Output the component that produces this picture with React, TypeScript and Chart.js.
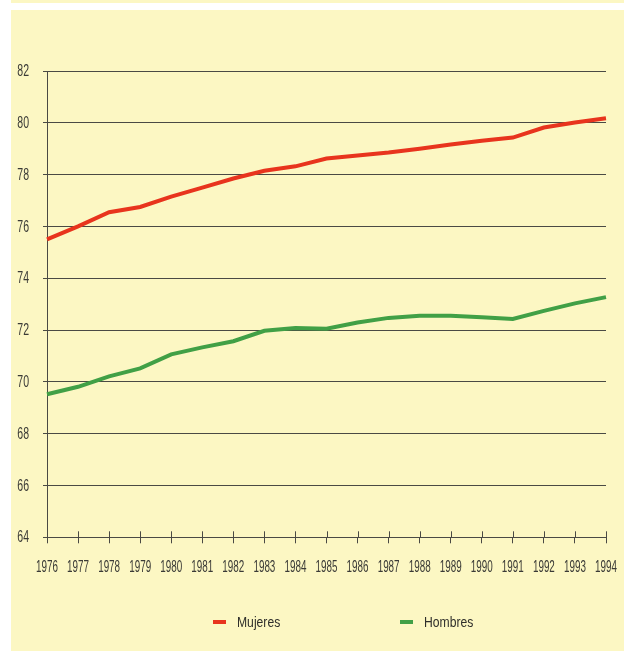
import React, { useEffect, useRef } from "react";
import { Chart, registerables } from "chart.js";

Chart.register(...registerables);

// ---- data ----
const YEARS = [
  "1976", "1977", "1978", "1979", "1980", "1981", "1982", "1983", "1984", "1985",
  "1986", "1987", "1988", "1989", "1990", "1991", "1992", "1993", "1994",
];
const MUJERES = [
  75.5, 76.0, 76.55, 76.75, 77.15, 77.5, 77.85, 78.15, 78.32, 78.62,
  78.74, 78.85, 79.0, 79.16, 79.31, 79.43, 79.82, 80.01, 80.18,
];
const HOMBRES = [
  69.52, 69.81, 70.21, 70.52, 71.06, 71.33, 71.57, 71.97, 72.08, 72.05,
  72.29, 72.47, 72.55, 72.55, 72.49, 72.43, 72.74, 73.03, 73.27,
];
const SERIES_NAMES = ["Mujeres", "Hombres"];
const Y_MIN = 64;
const Y_MAX = 82;
const Y_STEP = 2;

// ---- style ----
const W = 624;
const H = 651;
const PANEL = "#fcf7c3";
const RED = "#e8341d";
const GREEN = "#41a046";
const AXIS = "#4a4a44";
const TEXT = "#3a3a36";
const SANS = "'Liberation Sans', Arial, Helvetica, sans-serif";

// draws the short upper half of the x tick marks (they cross the axis)
const crossTicks = {
  id: "crossTicks",
  afterDraw(chart: any) {
    const xs = chart.scales.x;
    const ctx = chart.ctx;
    const y0 = chart.chartArea.bottom;
    ctx.save();
    ctx.strokeStyle = AXIS;
    ctx.lineWidth = 1;
    xs.ticks.forEach((_: any, i: number) => {
      const px = Math.round(xs.getPixelForTick(i)) + 0.5;
      ctx.beginPath();
      ctx.moveTo(px, y0 - 6);
      ctx.lineTo(px, y0);
      ctx.stroke();
    });
    ctx.restore();
  },
};

// condensed tick labels, drawn from the scales' own ticks
const condensedLabels = {
  id: "condensedLabels",
  afterDraw(chart: any) {
    const ctx = chart.ctx;
    const xs = chart.scales.x;
    const ys = chart.scales.y;
    ctx.save();
    ctx.fillStyle = TEXT;
    ctx.font = `17px ${SANS}`;
    ctx.textBaseline = "middle";
    const xy = chart.chartArea.bottom + 30;
    xs.ticks.forEach((t: any, i: number) => {
      const px = xs.getPixelForTick(i);
      ctx.save();
      ctx.translate(px, xy);
      ctx.scale(0.58, 1);
      ctx.textAlign = "center";
      ctx.fillText(String(t.label), 0, 0);
      ctx.restore();
    });
    ys.ticks.forEach((t: any, i: number) => {
      const py = ys.getPixelForTick(i);
      ctx.save();
      ctx.translate(ys.right - 18, py + 0.5);
      ctx.scale(0.62, 1);
      ctx.textAlign = "right";
      ctx.fillText(String(t.label), 0, 0);
      ctx.restore();
    });
    ctx.restore();
  },
};

const customLegend = {
  id: "customLegend",
  afterDraw(chart: any, _args: any, opts: any) {
    const ctx = chart.ctx;
    ctx.save();
    chart.data.datasets.forEach((ds: any, i: number) => {
      const x = opts.x[i];
      const y = opts.y;
      ctx.fillStyle = ds.borderColor;
      ctx.fillRect(x, y - 2, 13, 4);
      ctx.save();
      ctx.fillStyle = "#2e2e2a";
      ctx.font = `15px ${SANS}`;
      ctx.textBaseline = "middle";
      ctx.textAlign = "left";
      ctx.translate(x + 24, y + 0.5);
      ctx.scale(0.81, 1);
      ctx.fillText(ds.label, 0, 0);
      ctx.restore();
    });
    ctx.restore();
  },
};

export default function App() {
  const ref = useRef<HTMLCanvasElement | null>(null);

  useEffect(() => {
    if (!ref.current) return;
    const chart = new Chart(ref.current, {
      type: "line",
      data: {
        labels: YEARS,
        datasets: [
          {
            label: SERIES_NAMES[0],
            data: MUJERES,
            borderColor: RED,
            backgroundColor: RED,
            borderWidth: 4,
            pointRadius: 0,
            tension: 0,
          },
          {
            label: SERIES_NAMES[1],
            data: HOMBRES,
            borderColor: GREEN,
            backgroundColor: GREEN,
            borderWidth: 4,
            pointRadius: 0,
            tension: 0,
          },
        ],
      },
      options: {
        responsive: false,
        animation: false,
        events: [],
        layout: { padding: { left: 0, right: 18, top: 71, bottom: 0 } },
        plugins: {
          legend: { display: false },
          tooltip: { enabled: false },
          customLegend: { x: [213, 400], y: 622 },
        } as any,
        scales: {
          x: {
            type: "category",
            offset: false,
            grid: {
              display: true,
              drawOnChartArea: false,
              drawTicks: true,
              tickLength: 6,
              color: AXIS,
              lineWidth: 1,
            },
            border: { display: true, color: AXIS, width: 1 },
            ticks: { display: false, autoSkip: false, maxRotation: 0 },
            afterFit: (s: any) => {
              s.height = H - 537.3;
              s.paddingLeft = 0;
              s.paddingRight = 0;
            },
          },
          y: {
            min: Y_MIN,
            max: Y_MAX,
            grid: {
              color: AXIS,
              lineWidth: 1,
              drawTicks: true,
              tickLength: 4,
            },
            border: { display: true, color: AXIS, width: 1 },
            ticks: { display: false, stepSize: Y_STEP },
            afterFit: (s: any) => {
              s.width = 47;
              s.paddingTop = 0;
              s.paddingBottom = 0;
            },
          },
        },
      },
      plugins: [crossTicks, condensedLabels, customLegend],
    });
    return () => chart.destroy();
  }, []);

  return (
    <div style={{ position: "fixed", left: 0, top: 0, width: W, height: H, background: "#ffffff", overflow: "hidden" }}>
      <div style={{ position: "absolute", left: 11, top: 0, width: W - 11, height: 3, background: PANEL }} />
      <div style={{ position: "absolute", left: 11, top: 10, width: W - 11, height: H - 10, background: PANEL }} />
      <canvas ref={ref} width={W} height={H} style={{ position: "absolute", left: 0, top: 0, width: W, height: H, display: "block" }} />
    </div>
  );
}
